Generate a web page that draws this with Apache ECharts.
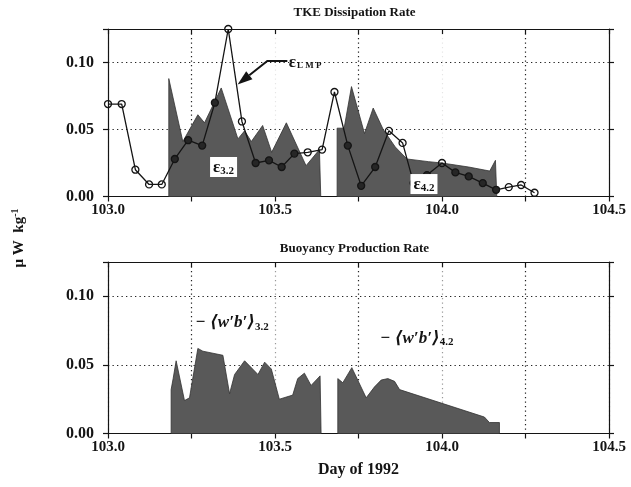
<!DOCTYPE html>
<html><head><meta charset="utf-8">
<script src="https://cdn.jsdelivr.net/npm/echarts@6/dist/echarts.min.js"></script>
<style>html,body{margin:0;padding:0;background:#fff}#c{width:631px;height:487px}</style>
</head><body><div id="c"></div>
<script>
// ---- data ----
const xTickLabels = [103.0, 103.5, 104.0, 104.5];
const yTickLabels = [0.00, 0.05, 0.10];

// epsilon_LMP (line with open circles), top panel
const lmpDay  = [103.000,103.041,103.082,103.123,103.161,103.200,103.240,103.282,103.320,103.360,103.401,103.442,103.482,103.520,103.558,103.598,103.641,103.678,103.718,103.758,103.800,103.841,103.882,103.915,103.955,104.000,104.040,104.080,104.122,104.162,104.200,104.237,104.277];
const lmpRate = [0.069,0.069,0.020,0.009,0.009,0.028,0.042,0.038,0.070,0.125,0.056,0.025,0.027,0.022,0.032,0.033,0.035,0.078,0.038,0.008,0.022,0.049,0.040,0.010,0.016,0.025,0.018,0.015,0.010,0.005,0.007,0.0086,0.0028];

// epsilon_3.2 shaded area, top panel
const e32Day  = [103.182,103.182,103.224,103.269,103.289,103.339,103.389,103.409,103.429,103.463,103.490,103.534,103.593,103.633,103.637,103.637];
const e32Rate = [0,0.088,0.041,0.061,0.055,0.081,0.043,0.049,0.041,0.053,0.033,0.055,0.023,0.035,0.035,0];

// epsilon_4.2 shaded area, top panel
const e42Day  = [103.686,103.686,103.707,103.729,103.768,103.794,103.824,103.860,103.895,103.960,104.000,104.080,104.143,104.160,104.164,104.164];
const e42Rate = [0,0.051,0.051,0.082,0.047,0.066,0.050,0.037,0.028,0.026,0.025,0.022,0.019,0.027,0.027,0];

// -<w'b'>_3.2 shaded area, bottom panel
const b32Day  = [103.189,103.189,103.195,103.204,103.229,103.244,103.269,103.284,103.344,103.364,103.379,103.409,103.449,103.469,103.489,103.513,103.553,103.568,103.588,103.608,103.635,103.638,103.638];
const b32Rate = [0,0.032,0.040,0.053,0.024,0.026,0.062,0.060,0.057,0.029,0.043,0.053,0.043,0.052,0.047,0.025,0.028,0.040,0.044,0.035,0.042,0.042,0];

// -<w'b'>_4.2 shaded area, bottom panel
const b42Day  = [103.688,103.688,103.703,103.730,103.773,103.798,103.818,103.838,103.858,103.873,104.127,104.142,104.172,104.172];
const b42Rate = [0,0.040,0.037,0.048,0.026,0.034,0.039,0.040,0.038,0.032,0.012,0.008,0.008,0];

// ---- helpers ----
const zip = (a, b) => a.map((v, i) => [v, b[i]]);
const SERIF = '"Liberation Serif", "DejaVu Serif", serif';
const INK = '#141414';
const AREA = '#595959';

// height of a shaded area at day x (0 outside it)
function areaAt(days, vals, x) {
  if (x <= days[0] || x >= days[days.length - 1]) return 0;
  for (let i = 1; i < days.length; i++) {
    if (x <= days[i]) {
      const t = (x - days[i - 1]) / ((days[i] - days[i - 1]) || 1);
      return vals[i - 1] + t * (vals[i] - vals[i - 1]);
    }
  }
  return 0;
}
// circles that sit inside the shaded areas look filled (dark) in the reference
function markerFill(p) {
  const x = p.data[0], y = p.data[1];
  const h = Math.max(areaAt(e32Day, e32Rate, x), areaAt(e42Day, e42Rate, x));
  return y < h ? '#262626' : 'rgba(255,255,255,0)';
}

function xBottom(g, splitColors, withName) {
  return {
    type: 'value', gridIndex: g, position: 'bottom', min: 103, max: 104.5, interval: 0.25,
    axisLine: {show: true, onZero: false, lineStyle: {color: INK, width: 1.2}},
    axisTick: {show: true, inside: false, length: 5, lineStyle: {color: INK, width: 1.2}},
    axisLabel: {
      color: INK, fontFamily: SERIF, fontWeight: 'bold', fontSize: 15, margin: 6,
      showMinLabel: true, showMaxLabel: true,
      formatter: v => xTickLabels.some(t => Math.abs(t - v) < 1e-6) ? v.toFixed(1) : ''
    },
    splitLine: {show: true, lineStyle: {type: [1.3, 3.2], width: 1.2, color: splitColors}},
    name: withName ? 'Day of 1992' : '', nameLocation: 'middle', nameGap: 28,
    nameTextStyle: {color: INK, fontFamily: SERIF, fontWeight: 'bold', fontSize: 16}
  };
}
function xTop(g) {
  return {
    type: 'value', gridIndex: g, position: 'top', min: 103, max: 104.5, interval: 0.25,
    axisLine: {show: true, onZero: false, lineStyle: {color: INK, width: 1.2}},
    axisTick: {show: true, inside: true, length: 5, lineStyle: {color: INK, width: 1.2}},
    axisLabel: {show: false}, splitLine: {show: false}
  };
}
function yLeft(g) {
  return {
    type: 'value', gridIndex: g, position: 'left', min: 0, max: 0.125, interval: 0.05,
    axisLine: {show: true, onZero: false, lineStyle: {color: INK, width: 1.2}},
    axisTick: {show: true, inside: false, length: 5, lineStyle: {color: INK, width: 1.2}},
    axisLabel: {
      color: INK, fontFamily: SERIF, fontWeight: 'bold', fontSize: 16, margin: 14,
      formatter: v => yTickLabels.some(t => Math.abs(t - v) < 1e-9) ? v.toFixed(2) : ''
    },
    splitLine: {show: true, lineStyle: {type: [1.3, 3.2], width: 1.2, color: '#222'}}
  };
}
function yRight(g) {
  return {
    type: 'value', gridIndex: g, position: 'right', min: 0, max: 0.125, interval: 0.05,
    axisLine: {show: true, onZero: false, lineStyle: {color: INK, width: 1.2}},
    axisTick: {show: true, inside: false, length: 5, lineStyle: {color: INK, width: 1.2}},
    axisLabel: {show: false}, splitLine: {show: false}
  };
}
function areaSeries(xi, yi, data) {
  return {
    type: 'line', xAxisIndex: xi, yAxisIndex: yi, data: data, symbol: 'none',
    lineStyle: {color: '#333', width: 0.8}, areaStyle: {color: AREA, opacity: 1},
    z: 2, animation: false, silent: true
  };
}

const chart = echarts.init(document.getElementById('c'), null, {renderer: 'canvas'});
chart.setOption({
  backgroundColor: '#ffffff',
  animation: false,
  grid: [
    {left: 108, right: 22, top: 29, height: 167.5},
    {left: 108, right: 22, top: 262, height: 171.5}
  ],
  xAxis: [
    xBottom(0, ['rgba(0,0,0,0.10)', '#222'], false),
    xTop(0),
    xBottom(1, ['rgba(0,0,0,0.40)', '#222'], true),
    xTop(1)
  ],
  yAxis: [yLeft(0), yRight(0), yLeft(1), yRight(1)],
  series: [
    areaSeries(0, 0, zip(e32Day, e32Rate)),
    areaSeries(0, 0, zip(e42Day, e42Rate)),
    {
      type: 'line', xAxisIndex: 0, yAxisIndex: 0, data: zip(lmpDay, lmpRate),
      symbol: 'circle', symbolSize: 7, showSymbol: true,
      itemStyle: {color: markerFill, borderColor: INK, borderWidth: 1.3},
      lineStyle: {color: INK, width: 1.3}, z: 3, animation: false, clip: true
    },
    areaSeries(2, 2, zip(b32Day, b32Rate)),
    areaSeries(2, 2, zip(b42Day, b42Rate))
  ]
});

// ---- annotations placed in data coordinates ----
const P = (g, d) => chart.convertToPixel(g === 0 ? {xAxisIndex: 0, yAxisIndex: 0} : {xAxisIndex: 2, yAxisIndex: 2}, d);
const g0L = P(0, [103, 0]), g0R = P(0, [104.5, 0]);
const cx = (g0L[0] + g0R[0]) / 2;

const lab32 = P(0, [103.346, 0.022]);
const lab42 = P(0, [103.946, 0.0093]);
const labLMP = P(0, [103.541, 0.100]);
const arrA = P(0, [103.537, 0.1012]);
const arrB = P(0, [103.477, 0.1012]);
const arrTip = P(0, [103.388, 0.0835]);
const wb32 = P(1, [103.262, 0.081]);
const wb42 = P(1, [103.815, 0.0695]);

// arrow head triangle
const dx = arrTip[0] - arrB[0], dy = arrTip[1] - arrB[1];
const L = Math.hypot(dx, dy), ux = dx / L, uy = dy / L;
const hl = 15, hw = 5;
const base = [arrTip[0] - ux * hl, arrTip[1] - uy * hl];
const head = [arrTip, [base[0] - uy * hw, base[1] + ux * hw], [base[0] + uy * hw, base[1] - ux * hw]];

const epsRich = {
  e: {fontFamily: SERIF, fontSize: 17, fontWeight: 'bold', fill: INK},
  s: {fontFamily: SERIF, fontSize: 11, fontWeight: 'bold', fill: INK, padding: [8, 0, 0, 0]},
  l: {fontFamily: SERIF, fontSize: 9, fontWeight: 'bold', fill: INK, padding: [7, 0, 0, 1]}
};
const wbRich = {
  w: {fontFamily: SERIF, fontSize: 17, fontWeight: 'bold', fontStyle: 'italic', fill: INK},
  s: {fontFamily: SERIF, fontSize: 11, fontWeight: 'bold', fill: INK, padding: [9, 0, 0, 0]}
};

chart.setOption({
  graphic: [
    {type: 'text', x: cx - 4, y: 13, silent: true,
     style: {text: 'TKE Dissipation Rate', font: 'bold 13px ' + SERIF, fill: INK, align: 'center', verticalAlign: 'middle'}},
    {type: 'text', x: cx - 4, y: 249, silent: true,
     style: {text: 'Buoyancy Production Rate', font: 'bold 13px ' + SERIF, fill: INK, align: 'center', verticalAlign: 'middle'}},
    {type: 'text', x: 19, y: 238, rotation: Math.PI / 2, silent: true,
     style: {text: '{a|μ W  kg}{p|-1}', align: 'center', verticalAlign: 'middle',
       rich: {a: {fontFamily: SERIF, fontSize: 15, fontWeight: 'bold', fill: INK},
              p: {fontFamily: SERIF, fontSize: 10, fontWeight: 'bold', fill: INK, padding: [0, 0, 8, 0]}}}},
    {type: 'text', x: lab32[0], y: lab32[1], z: 10, silent: true,
     style: {text: '{e|ε}{s|3.2}', rich: epsRich, align: 'center', verticalAlign: 'middle', backgroundColor: '#fff', padding: [1, 3, 0, 3]}},
    {type: 'text', x: lab42[0], y: lab42[1], z: 10, silent: true,
     style: {text: '{e|ε}{s|4.2}', rich: epsRich, align: 'center', verticalAlign: 'middle', backgroundColor: '#fff', padding: [1, 3, 0, 3]}},
    {type: 'text', x: labLMP[0], y: labLMP[1], z: 10, silent: true,
     style: {text: '{e|ε}{l|L M P}', rich: epsRich, align: 'left', verticalAlign: 'middle'}},
    {type: 'polyline', z: 10, silent: true, shape: {points: [arrA, arrB, base]}, style: {stroke: INK, lineWidth: 2, fill: null}},
    {type: 'polygon', z: 10, silent: true, shape: {points: head}, style: {fill: INK}},
    {type: 'text', x: wb32[0], y: wb32[1], z: 10, silent: true,
     style: {text: '{w|− ⟨w′b′⟩}{s|3.2}', rich: wbRich, align: 'left', verticalAlign: 'middle'}},
    {type: 'text', x: wb42[0], y: wb42[1], z: 10, silent: true,
     style: {text: '{w|− ⟨w′b′⟩}{s|4.2}', rich: wbRich, align: 'left', verticalAlign: 'middle'}}
  ]
});
</script>
</body></html>
